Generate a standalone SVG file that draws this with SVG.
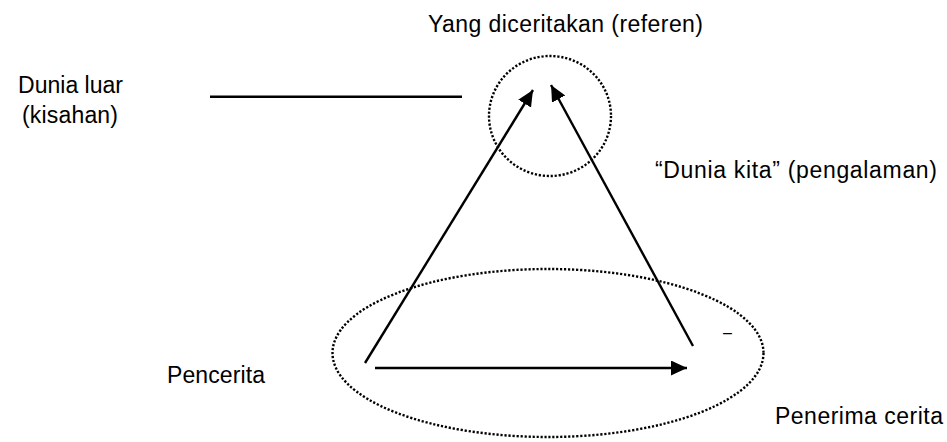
<svg xmlns="http://www.w3.org/2000/svg" width="947" height="442" viewBox="0 0 947 442">
<style>
text { font-family: "Liberation Sans", Arial, sans-serif; font-size: 23px; fill: #000; }
.dot { fill: none; stroke: #000; stroke-width: 2.4; stroke-dasharray: 2.2 1.8; }
.arr { stroke: #000; stroke-width: 2.4; fill: none; marker-end: url(#ah); }
</style>
<defs>
<marker id="ah" markerUnits="userSpaceOnUse" markerWidth="18" markerHeight="16" refX="16" refY="7.5" orient="auto">
<path d="M0,0 L16,7.5 L0,15 z" fill="#000"/>
</marker>
</defs>
<rect width="947" height="442" fill="#fff"/>
<g id="referen">
<ellipse class="dot" cx="550" cy="116" rx="61" ry="60"/>
<text x="428" y="32" textLength="275">Yang diceritakan (referen)</text>
</g>
<g id="dunia-luar">
<text x="18" y="93" textLength="105">Dunia luar</text>
<text x="22" y="123" textLength="96">(kisahan)</text>
<line x1="210" y1="96.7" x2="462" y2="96.7" stroke="#000" stroke-width="2.6"/>
</g>
<g id="dunia-kita">
<text x="655" y="178" textLength="282">“Dunia kita” (pengalaman)</text>
</g>
<g id="komunikasi">
<ellipse class="dot" cx="548" cy="353" rx="215.5" ry="84"/>
<text x="723" y="338" style="font-size:16px">–</text>
</g>
<g id="pencerita">
<text x="167" y="383" textLength="98">Pencerita</text>
</g>
<g id="penerima">
<text x="775" y="424" textLength="168">Penerima cerita</text>
</g>
<g id="connectors">
<line class="arr" x1="365" y1="363" x2="533" y2="90"/>
<line class="arr" x1="693" y1="346" x2="551" y2="85"/>
<line class="arr" x1="375" y1="368" x2="687" y2="368"/>
</g>
</svg>
